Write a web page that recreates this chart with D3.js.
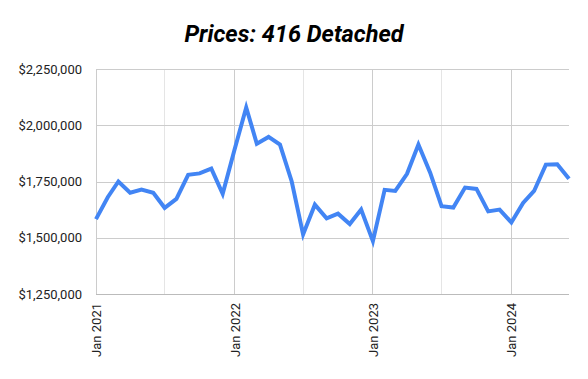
<!DOCTYPE html>
<html>
<head>
<meta charset="utf-8">
<script src="https://cdn.jsdelivr.net/npm/d3@7"></script>
<style>
  html, body { margin: 0; padding: 0; background: #fff; }
  svg { display: block; font-family: Roboto, "Noto Sans", sans-serif; }
</style>
</head>
<body>
<svg id="chart" width="588" height="379"></svg>
<script>
// ---- Data ----
const title = "Prices: 416 Detached";
const startYear = 2021;
const startMonth = 0; // January
const prices = [
  1583000, 1680000, 1750000, 1700000, 1714000, 1700000, 1633000, 1673000, 1780000, 1786000, 1807000, 1695000,
  1890000, 2079000, 1918000, 1948000, 1914000, 1750000, 1515000, 1647000, 1586000, 1607000, 1561000, 1625000,
  1485000, 1713000, 1708000, 1784000, 1914000, 1789000, 1640000, 1634000, 1723000, 1717000, 1617000, 1625000,
  1568000, 1655000, 1708000, 1825000, 1827000, 1762000
];
const yTicks = [1250000, 1500000, 1750000, 2000000, 2250000];
const xMajorTicks = ["2021-01", "2022-01", "2023-01", "2024-01"];
const xMinorTicks = ["2021-07", "2022-07", "2023-07"];

// ---- Build ----
const data = prices.map((v, i) => ({ date: new Date(startYear, startMonth + i, 1), value: v }));
const parseMonth = d3.timeParse("%Y-%m");

const svg = d3.select("#chart");
const margin = { left: 96, right: 19, top: 69, bottom: 85 };
const W = 588, H = 379;

const x = d3.scaleTime()
  .domain(d3.extent(data, d => d.date))
  .range([margin.left, W - margin.right]);
const y = d3.scaleLinear()
  .domain([1250000, 2250000])
  .range([H - margin.bottom, margin.top]);

// Title
svg.append("text")
  .attr("x", W / 2)
  .attr("y", 42)
  .attr("text-anchor", "middle")
  .style("font-size", "23.5px")
  .style("font-weight", "bold")
  .style("font-style", "italic")
  .style("fill", "#000")
  .text(title);

// Minor vertical gridlines
svg.append("g").selectAll("line")
  .data(xMinorTicks.map(parseMonth))
  .join("line")
  .attr("x1", d => x(d)).attr("x2", d => x(d))
  .attr("y1", y(2250000)).attr("y2", y(1250000))
  .attr("stroke", "#e5e5e5").attr("stroke-width", 1)
  .attr("shape-rendering", "crispEdges");

// Major vertical gridlines
svg.append("g").selectAll("line")
  .data(xMajorTicks.map(parseMonth))
  .join("line")
  .attr("x1", d => x(d)).attr("x2", d => x(d))
  .attr("y1", y(2250000)).attr("y2", y(1250000))
  .attr("stroke", "#cccccc").attr("stroke-width", 1)
  .attr("shape-rendering", "crispEdges");

// Y axis with gridlines
const yAxis = d3.axisLeft(y)
  .tickValues(yTicks)
  .tickSize(-(W - margin.right - margin.left))
  .tickPadding(14)
  .tickFormat(d => "$" + d3.format(",")(d));
const gy = svg.append("g")
  .attr("transform", `translate(${margin.left},0)`)
  .call(yAxis);
gy.select(".domain").remove();
gy.selectAll(".tick line")
  .attr("stroke", "#cccccc")
  .attr("shape-rendering", "crispEdges");
gy.selectAll(".tick text")
  .style("font-size", "13px")
  .style("font-family", "Roboto, sans-serif")
  .style("fill", "#222");

// Bottom baseline
svg.append("line")
  .attr("x1", margin.left).attr("x2", W - margin.right)
  .attr("y1", y(1250000)).attr("y2", y(1250000))
  .attr("stroke", "#bbbbbb")
  .attr("shape-rendering", "crispEdges");

// X axis labels
const xAxis = d3.axisBottom(x)
  .tickValues(xMajorTicks.map(parseMonth))
  .tickSize(0)
  .tickFormat(d3.timeFormat("%b %Y"));
const gx = svg.append("g")
  .attr("transform", `translate(0,${y(1250000)})`)
  .call(xAxis);
gx.select(".domain").remove();
gx.selectAll(".tick text")
  .attr("transform", "rotate(-90)")
  .attr("text-anchor", "end")
  .attr("x", -9)
  .attr("y", 0)
  .attr("dy", "0.35em")
  .style("font-size", "13px")
  .style("font-family", "Roboto, sans-serif")
  .style("fill", "#222");

// Line
const line = d3.line()
  .x(d => x(d.date))
  .y(d => y(d.value));
svg.append("path")
  .datum(data)
  .attr("d", line)
  .attr("fill", "none")
  .attr("stroke", "#4285F4")
  .attr("stroke-width", 4)
  .attr("stroke-linejoin", "miter")
  .attr("stroke-linecap", "butt");
</script>
</body>
</html>
